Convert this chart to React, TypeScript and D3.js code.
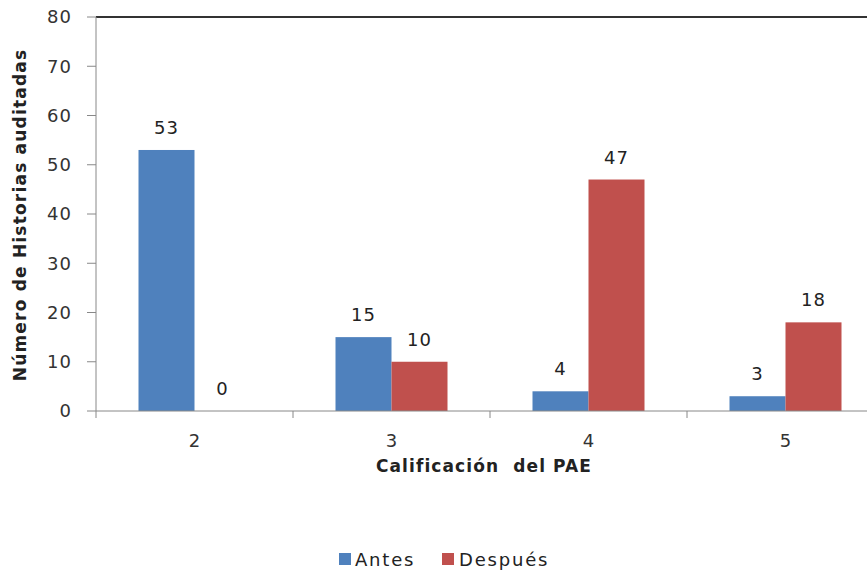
import React from "react";
import * as d3 from "d3";

const categories = ["2", "3", "4", "5"];
const antes = [53, 15, 4, 3];
const despues = [0, 10, 47, 18];
const yTicks = [0, 10, 20, 30, 40, 50, 60, 70, 80];
const seriesNames = ["Antes", "Después"];
const colors = ["#4F81BD", "#C0504D"];

export default function App() {
  const W = 867, H = 574;
  const left = 96, top = 17, bottom = 411;
  const x = d3.scaleBand().domain(categories).range([left, left + 197 * 4]).paddingInner(0).paddingOuter(0);
  const y = d3.scaleLinear().domain([0, 80]).range([bottom, top]);
  const barW = 56;
  const font = "'DejaVu Sans', Verdana, sans-serif";
  const series = [antes, despues];
  return (
    <svg width={W} height={H} style={{ position: "absolute", left: 0, top: 0, background: "#fff" }} fontFamily={font}>
      <rect width={W} height={H} fill="#fff" />
      {series.map((vals, si) =>
        categories.map((c, i) => {
          const cx = x(c)! + x.bandwidth() / 2;
          const bx = cx - barW + si * barW;
          const v = vals[i];
          return (
            <g key={`${si}-${i}`}>
              {v > 0 && <rect x={bx} y={y(v)} width={barW} height={y(0) - y(v)} fill={colors[si]} />}
              <text x={bx + barW / 2} y={y(v) - 16} textAnchor="middle" fontSize={18} letterSpacing={1} fill="#222">{v}</text>
            </g>
          );
        })
      )}
      <line x1={left} x2={W} y1={top} y2={top} stroke="#333" strokeWidth={2} />
      <line x1={left} x2={left} y1={top} y2={bottom} stroke="#888" strokeWidth={1} />
      {yTicks.map((t) => (
        <g key={t}>
          <line x1={left - 9} x2={left} y1={y(t)} y2={y(t)} stroke="#888" />
          <text x={72} y={y(t)} dy="0.36em" textAnchor="end" fontSize={18} letterSpacing={1} fill="#333">{t}</text>
        </g>
      ))}
      <line x1={left} x2={W} y1={bottom} y2={bottom} stroke="#888" />
      {categories.map((c) => (
        <g key={c}>
          <line x1={x(c)!} x2={x(c)!} y1={bottom} y2={bottom + 7} stroke="#888" />
          <text x={x(c)! + x.bandwidth() / 2} y={bottom + 36} textAnchor="middle" fontSize={18} fill="#333">{c}</text>
        </g>
      ))}
      <line x1={x(categories[3])! + 197} x2={x(categories[3])! + 197} y1={bottom} y2={bottom + 7} stroke="#888" />
      <text x={484} y={472} textAnchor="middle" fontSize={17} letterSpacing={1.1} fontWeight="bold" fill="#222" xmlSpace="preserve">Calificación  del PAE</text>
      <text transform={`translate(26,215) rotate(-90)`} textAnchor="middle" fontSize={17} letterSpacing={1.2} fontWeight="bold" fill="#222">Número de Historias auditadas</text>
      <rect x={339} y={553} width={12} height={12} fill={colors[0]} />
      <text x={355} y={566} fontSize={18} letterSpacing={1.8} fill="#222">{seriesNames[0]}</text>
      <rect x={442} y={553} width={12} height={12} fill={colors[1]} />
      <text x={459} y={566} fontSize={18} letterSpacing={1.8} fill="#222">{seriesNames[1]}</text>
    </svg>
  );
}
